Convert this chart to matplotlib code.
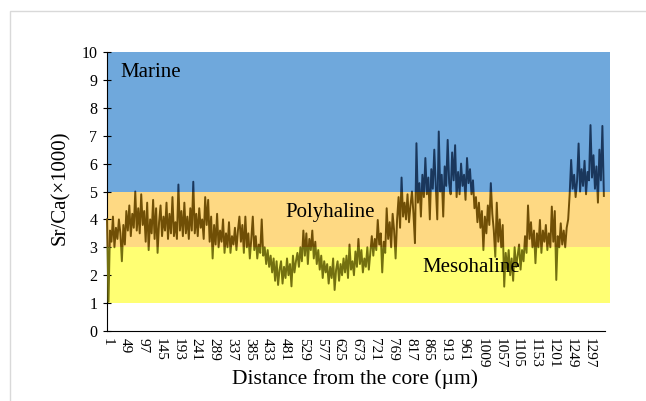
import matplotlib
matplotlib.use("Agg")
import matplotlib.pyplot as plt
from matplotlib.patches import Rectangle
import numpy as np

plt.rcParams['font.family'] = ['Liberation Serif', 'DejaVu Serif']

# Sr/Ca (x1000) sampled every 4 µm from 1 µm
sr_ca = [
    4.0, 1.05, 3.6, 3.2, 4.1, 3.0, 3.7, 3.3, 4.0, 3.5,
    2.5, 3.8, 3.1, 4.3, 3.6, 4.5, 3.4, 4.2, 3.7, 5.0,
    3.6, 4.4, 3.5, 4.9, 3.8, 4.3, 3.2, 4.6, 2.9, 4.0,
    3.5, 4.7, 3.3, 4.4, 2.8, 3.9, 4.5, 3.4, 4.1, 3.6,
    4.6, 3.3, 4.2, 3.5, 4.8, 3.4, 3.9, 3.3, 5.25, 3.6,
    4.3, 3.4, 4.6, 3.5, 4.1, 3.3, 4.4, 3.6, 5.35, 3.5,
    4.2, 3.4, 4.4, 3.7, 4.0, 3.3, 4.8, 3.8, 4.7, 3.2,
    4.1, 2.6, 3.8, 3.1, 4.2, 3.0, 3.6, 3.2, 4.0, 2.8,
    3.5, 3.0, 3.9, 2.8, 3.4, 3.1, 3.7, 2.9, 3.6, 4.1,
    3.2, 3.8, 2.8, 4.1, 3.0, 3.5, 2.6, 3.3, 4.1, 2.9,
    3.4, 2.6, 3.1, 2.8, 4.0, 2.7, 3.0, 2.4, 2.9, 2.3,
    2.7, 2.1, 2.6, 1.8, 2.5, 1.65, 2.2, 2.5, 1.7, 2.3,
    1.9, 2.6, 2.0, 2.4, 1.6, 2.7, 2.1, 2.5, 2.8, 2.3,
    3.0, 2.5, 3.6, 2.7, 3.5, 2.4, 3.3, 2.9, 3.6, 2.6,
    3.2, 2.4, 2.9, 2.2, 2.7, 1.9, 2.5, 2.1, 2.4, 1.7,
    2.3, 1.9, 2.6, 1.47, 2.2, 2.5, 1.8, 2.4, 2.0, 2.6,
    2.1, 2.7, 1.9, 3.1, 2.2, 2.5, 2.0, 2.85, 2.3, 3.3,
    2.4, 2.9, 2.1, 2.6, 2.3, 3.0, 2.2, 2.8, 3.4, 2.7,
    3.3, 2.9, 3.98, 3.1, 3.5, 2.1, 3.2, 2.8, 4.4, 3.3,
    3.9, 3.0, 4.2, 3.6, 2.6, 4.0, 4.8, 3.7, 5.5, 4.1,
    4.6, 4.0, 4.9, 3.9, 4.5, 5.0, 4.2, 3.15, 6.73, 4.6,
    5.3, 4.1, 5.6, 4.8, 6.2, 4.9, 5.5, 4.0, 5.8, 5.1,
    6.5, 5.2, 4.0, 7.15, 5.0, 5.6, 4.1, 5.9, 5.2, 6.85,
    5.3, 4.9, 6.4, 5.4, 6.66, 4.8, 5.7, 4.9, 6.0, 5.2,
    5.6, 4.7, 6.2, 5.3, 5.8, 4.9, 5.4, 4.4, 4.8, 3.9,
    4.6, 3.7, 4.3, 2.9, 4.1, 3.5, 4.5, 3.8, 5.3, 4.2,
    3.6, 2.66, 4.6, 3.2, 4.0, 3.0, 3.8, 1.59, 2.8, 2.2,
    2.9, 2.0, 2.6, 1.8, 3.0, 2.3, 2.7, 3.1, 2.2, 2.9,
    2.5, 3.4, 2.8, 4.5, 3.3, 3.9, 3.0, 3.6, 2.43, 3.5,
    3.0, 3.98, 2.8, 3.6, 3.2, 3.8, 2.9, 3.5, 3.0, 4.46,
    3.2, 4.3, 1.83, 3.4, 3.0, 3.86, 3.1, 3.6, 3.0, 3.7,
    4.0, 4.9, 6.13, 5.1, 5.6, 4.8, 5.4, 6.72, 5.0, 5.8,
    5.2, 6.1, 4.9, 5.7, 5.4, 7.38, 5.5, 6.3, 5.1, 5.9,
    4.6, 6.5, 5.4, 7.35, 4.84,
]
distance = list(range(1, 1 + 4 * len(sr_ca), 4))

tick_labels = list(range(1, 1298, 48))

zones = ["Marine", "Polyhaline", "Mesohaline"]
zone_bounds = [(5, 10), (3, 5), (1, 3)]
zone_colors = ["#6fa8dc", "#fed983", "#ffff73"]
line_colors = ["#1a375c", "#704f06", "#737010"]

W, H = 646, 401
fig = plt.figure(figsize=(W / 100, H / 100), dpi=100)
ax = fig.add_axes([107 / W, 1 - 331 / H, (605 - 107) / W, (331 - 52) / H])

x0, x1 = 1, 1340
ax.set_xlim(x0, x1)
ax.set_ylim(0, 10)

for (lo, hi), c in zip(zone_bounds, zone_colors):
    ax.fill_between([x0, 1353], [lo, lo], [hi, hi], color=c, lw=0, zorder=1,
                    clip_on=False)

for (lo, hi), lc in zip(zone_bounds, line_colors):
    ln, = ax.plot(distance, sr_ca, color=lc, lw=1.4, zorder=3)
    rect = Rectangle((x0 - 5, lo), 1400, hi - lo, transform=ax.transData)
    ln.set_clip_path(rect)

ax.text(36, 9.28, zones[0], fontsize=15, va='center', ha='left', zorder=5)
ax.text(480, 4.23, zones[1], fontsize=15, va='center', ha='left', zorder=5)
ax.text(848, 2.26, zones[2], fontsize=15, va='center', ha='left', zorder=5)

ax.spines['top'].set_visible(False)
ax.spines['right'].set_visible(False)
ax.set_yticks(range(0, 11))
ax.tick_params(axis='y', direction='inout', length=6, labelsize=11.5, pad=4)
ax.set_xticks(tick_labels)
ax.set_xticklabels([str(t) for t in tick_labels], rotation=-90, fontsize=11)
ax.tick_params(axis='x', which='major', length=0, pad=5)
ax.set_xticks(tick_labels[::2], minor=True)
ax.tick_params(axis='x', which='minor', direction='out', length=5)

fig.text(60 / W, 1 - 188 / H, "Sr/Ca(×1000)", rotation=90, fontsize=15,
         ha='center', va='center')
fig.text(355 / W, 1 - 379 / H, "Distance from the core (µm)", fontsize=15.5,
         ha='center', va='center')

fig.patches.append(Rectangle((10 / W, -0.05), 1.1, 1 - 11 / H + 0.05,
                             transform=fig.transFigure, fill=False,
                             edgecolor='#d9d9d9', lw=1))

fig.savefig("out.png", dpi=100)
